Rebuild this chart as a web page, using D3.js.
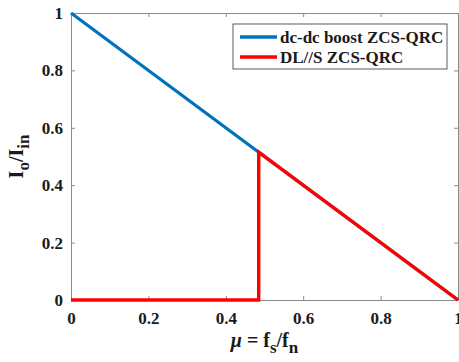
<!DOCTYPE html>
<html>
<head>
<meta charset="utf-8">
<script src="https://cdn.jsdelivr.net/npm/d3@7"></script>
<style>
  body { margin: 0; background: #fff; }
  svg text { font-family: 'Liberation Serif', 'Times New Roman', Times, 'DejaVu Serif', serif !important; font-weight: bold; fill: #1a1a1a; }
</style>
</head>
<body>
<div id="chart"></div>
<script>
// data
var boostMu = [0, 1];
var boostIo = [1, 0];
var dlsMu = [0, 0.485, 0.485, 1];
var dlsIo = [0, 0, 0.515, 0];
var xTicks = [0, 0.2, 0.4, 0.6, 0.8, 1];
var yTicks = [0, 0.2, 0.4, 0.6, 0.8, 1];
var seriesNames = ['dc-dc boost ZCS-QRC', 'DL//S ZCS-QRC'];
var seriesColors = ['#0072BD', '#FF0000'];

var width = 459, height = 362;
var margin = {left: 71, top: 13, right: 1, bottom: 62};
var w = width - margin.left - margin.right;
var h = height - margin.top - margin.bottom;

var svg = d3.select('#chart').append('svg')
  .attr('width', width).attr('height', height);
var g = svg.append('g').attr('transform', 'translate(' + margin.left + ',' + margin.top + ')');

var x = d3.scaleLinear().domain([0, 1]).range([0, w]);
var y = d3.scaleLinear().domain([0, 1]).range([h, 0]);

var fmt = function(d) { return d === 0 ? '0' : d === 1 ? '1' : d3.format('.1f')(d); };

// axes, matlab style: ticks pointing in, box all round
var xAxis = d3.axisBottom(x).tickValues(xTicks).tickFormat(fmt).tickSizeInner(-4).tickSizeOuter(0).tickPadding(12);
var yAxis = d3.axisLeft(y).tickValues(yTicks).tickFormat(fmt).tickSizeInner(-4).tickSizeOuter(0).tickPadding(8);
var xTop = d3.axisTop(x).tickValues(xTicks).tickFormat('').tickSizeInner(-4).tickSizeOuter(0);
var yRight = d3.axisRight(y).tickValues(yTicks).tickFormat('').tickSizeInner(-4).tickSizeOuter(0);

var gx = g.append('g').attr('transform', 'translate(0,' + h + ')').call(xAxis);
var gy = g.append('g').call(yAxis);
var gt = g.append('g').call(xTop);
var gr = g.append('g').attr('transform', 'translate(' + w + ',0)').call(yRight);

[gx, gy, gt, gr].forEach(function(a) {
  a.attr('font-family', null).attr('font-size', null);
  a.selectAll('path, line').attr('stroke', '#8a8a8a');
  a.selectAll('text').style('font-size', '17px').attr('fill', '#1a1a1a');
});

var line = d3.line().x(function(d) { return x(d[0]); }).y(function(d) { return y(d[1]); });

g.append('path')
  .datum(d3.zip(boostMu, boostIo))
  .attr('d', line)
  .attr('fill', 'none').attr('stroke', seriesColors[0]).attr('stroke-width', 3.2);

g.append('path')
  .datum(d3.zip(dlsMu, dlsIo))
  .attr('d', line)
  .attr('fill', 'none').attr('stroke', seriesColors[1]).attr('stroke-width', 3.4)
  .attr('stroke-linejoin', 'miter');

// legend
var lg = svg.append('g').attr('transform', 'translate(233,24)');
lg.append('rect').attr('width', 214).attr('height', 45)
  .attr('fill', '#fff').attr('stroke', '#333').attr('stroke-width', 0.8);
seriesNames.forEach(function(name, i) {
  var yy = 13 + i * 20;
  lg.append('line').attr('x1', 7).attr('x2', 44).attr('y1', yy).attr('y2', yy)
    .attr('stroke', seriesColors[i]).attr('stroke-width', 3.4);
  lg.append('text').attr('x', 47).attr('y', yy + 6).style('font-size', '17px').text(name);
});

// axis labels
var xl = svg.append('text').attr('x', margin.left + w / 2).attr('y', 347)
  .attr('text-anchor', 'middle').style('font-size', '20px');
xl.append('tspan').style('font-style', 'italic').text('\u03bc');
xl.append('tspan').text(' = f');
xl.append('tspan').attr('dy', 6).style('font-size', '17px').text('s');
xl.append('tspan').attr('dy', -6).text('/f');
xl.append('tspan').attr('dy', 6).style('font-size', '17px').text('n');

var yl = svg.append('text')
  .attr('transform', 'translate(23,' + (margin.top + h / 2) + ') rotate(-90)')
  .attr('text-anchor', 'middle').style('font-size', '20px');
yl.append('tspan').text('I');
yl.append('tspan').attr('dy', 6).style('font-size', '17px').text('o');
yl.append('tspan').attr('dy', -6).text('/I');
yl.append('tspan').attr('dy', 6).style('font-size', '17px').text('in');
</script>
</body>
</html>
